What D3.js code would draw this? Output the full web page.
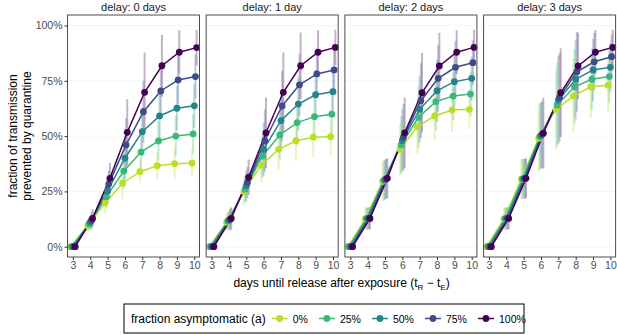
<!DOCTYPE html>
<html>
<head>
<meta charset="utf-8">
<script src="https://cdn.jsdelivr.net/npm/d3@7"></script>
<style>
  body { margin: 0; background: #fff; }
  text { font-family: "Liberation Sans", Arial, sans-serif; }
</style>
</head>
<body>
<div id="chart"></div>
<script>
// days until release after exposure
const days = [3, 4, 5, 6, 7, 8, 9, 10];
const asymLabels = ["0%", "25%", "50%", "75%", "100%"];
const asymColors = ["#BBDF27", "#38B977", "#25838E", "#3E4A89", "#440154"];
const delayLabels = ["delay: 0 days", "delay: 1 day", "delay: 2 days", "delay: 3 days"];
const yTicks = [0, 25, 50, 75, 100];

// mean fraction prevented (%), one row per asymptomatic level
const delay0Mean = [
  [0, 9.5, 19.9, 28.7, 33.9, 36.6, 37.5, 37.8],
  [0, 10.3, 22.6, 34.2, 42.8, 47.8, 50.0, 51.0],
  [0, 11.0, 25.2, 40.0, 52.0, 59.1, 62.6, 63.7],
  [0, 11.8, 28.3, 46.0, 61.0, 70.4, 75.4, 76.9],
  [0, 12.8, 30.9, 51.7, 69.8, 81.8, 87.9, 90.0]
];
const delay1Mean = [
  [0, 11.0, 24.9, 36.9, 44.0, 47.9, 49.5, 49.7],
  [0, 11.5, 26.0, 41.0, 50.5, 56.1, 58.8, 59.9],
  [0, 12.0, 27.5, 44.0, 57.0, 64.5, 68.7, 70.1],
  [0, 12.3, 29.0, 47.9, 63.6, 73.2, 78.1, 79.9],
  [0, 12.8, 31.4, 51.5, 69.8, 81.8, 87.9, 90.1]
];
const delay2Mean = [
  [0, 12.6, 29.5, 44.0, 54.2, 59.1, 61.8, 62.1],
  [0, 12.7, 30.0, 46.0, 58.5, 65.6, 68.1, 69.0],
  [0, 12.7, 30.3, 48.0, 62.1, 70.5, 74.6, 76.1],
  [0, 12.8, 30.6, 49.5, 66.0, 76.1, 81.1, 83.2],
  [0, 12.8, 30.9, 51.5, 69.6, 81.7, 87.9, 90.1]
];
const delay3Mean = [
  [0, 12.6, 30.5, 49.0, 62.1, 68.1, 72.3, 73.0],
  [0, 12.7, 30.6, 49.8, 64.1, 72.3, 75.7, 76.9],
  [0, 12.7, 30.7, 50.3, 66.3, 75.7, 79.9, 81.1],
  [0, 12.8, 30.8, 50.8, 67.5, 79.1, 83.6, 85.9],
  [0, 12.8, 30.9, 51.3, 69.6, 81.7, 87.9, 90.1]
];

// half width of the uncertainty bars (%), same layout
const delay0Err = [
  [1, 3, 5, 7, 5, 6, 7, 6],
  [1, 3, 5, 8, 9, 9, 9, 9],
  [1, 3, 6, 10, 11, 11, 10, 10],
  [1, 4, 6, 12, 14, 12, 11, 10],
  [1, 4, 7, 15, 18, 14, 10, 8]
];
const delay1Err = [
  [1, 4, 6, 8, 9, 9, 9, 8],
  [1, 4, 6, 10, 11, 10, 10, 9],
  [1, 4, 7, 12, 13, 12, 11, 10],
  [1, 5, 7, 14, 16, 14, 11, 10],
  [1, 5, 8, 16, 18, 15, 10, 8]
];
const delay2Err = [
  [1, 5, 9, 12, 12, 11, 10, 9],
  [1, 5, 9, 13, 14, 13, 11, 10],
  [1, 5, 9, 14, 15, 14, 12, 10],
  [1, 5, 9, 15, 17, 15, 12, 10],
  [1, 5, 9, 16, 18, 15, 10, 8]
];
const delay3Err = [
  [1, 5, 9, 15, 18, 17, 14, 12],
  [1, 5, 9, 15, 19, 17, 14, 12],
  [1, 5, 9, 15, 20, 18, 14, 11],
  [1, 5, 9, 15, 20, 18, 13, 10],
  [1, 5, 9, 16, 20, 15, 10, 8]
];

const panelMeans = [delay0Mean, delay1Mean, delay2Mean, delay3Mean];
const panelErrs = [delay0Err, delay1Err, delay2Err, delay3Err];
const dodge = [-0.135, -0.0675, 0, 0.0675, 0.135];

const width = 617, height = 335;
const panel = {left: 67.5, step: 138.7, width: 132, top: 15, bottom: 257};

const svg = d3.select('#chart')
  .append('svg')
  .attr('width', width)
  .attr('height', height);

const y = d3.scaleLinear()
  .domain([0, 100])
  .range([246.7, 25.5]);

panelMeans.forEach((means, p) => {
  const x0 = panel.left + p * panel.step;
  const x = d3.scaleLinear()
    .domain([2.69, 10.3])
    .range([x0, x0 + panel.width]);

  const g = svg.append('g').attr('class', 'panel');

  // grid
  g.selectAll('.grid')
    .data(yTicks)
    .enter()
    .append('line')
    .attr('x1', x0).attr('x2', x0 + panel.width)
    .attr('y1', d => y(d)).attr('y2', d => y(d))
    .attr('stroke', '#ececec')
    .attr('stroke-width', 0.6);

  // strip title
  svg.append('text')
    .attr('x', x0 + panel.width / 2)
    .attr('y', 10.5)
    .attr('text-anchor', 'middle')
    .attr('font-size', 11)
    .attr('fill', '#1a1a1a')
    .text(delayLabels[p]);

  const errs = panelErrs[p];

  // uncertainty bars
  means.forEach((row, s) => {
    g.selectAll(null)
      .data(row.map((v, i) => ({day: days[i], v: v, e: errs[s][i]})))
      .enter()
      .append('rect')
      .attr('x', d => x(d.day + dodge[s]) - 1)
      .attr('width', 2)
      .attr('y', d => y(Math.min(100, d.v + d.e)))
      .attr('height', d => y(Math.max(0, d.v - d.e)) - y(Math.min(100, d.v + d.e)))
      .attr('fill', asymColors[s])
      .attr('opacity', 0.3);
  });

  const line = d3.line()
    .x(d => x(d.day + d.off))
    .y(d => y(d.v));

  means.forEach((row, s) => {
    const pts = row.map((v, i) => ({day: days[i], v: v, off: dodge[s]}));
    g.append('path')
      .datum(pts)
      .attr('d', line)
      .attr('fill', 'none')
      .attr('stroke', asymColors[s])
      .attr('stroke-width', 1.5);
  });

  means.forEach((row, s) => {
    g.selectAll(null)
      .data(row.map((v, i) => ({day: days[i], v: v})))
      .enter()
      .append('circle')
      .attr('cx', d => x(d.day + dodge[s]))
      .attr('cy', d => y(d.v))
      .attr('r', 3.4)
      .attr('fill', asymColors[s]);
  });

  // border
  g.append('rect')
    .attr('x', x0).attr('y', panel.top)
    .attr('width', panel.width).attr('height', panel.bottom - panel.top)
    .attr('fill', 'none')
    .attr('stroke', '#4d4d4d')
    .attr('stroke-width', 1);

  // x axis
  const xAxis = svg.append('g')
    .attr('transform', `translate(0,${panel.bottom})`)
    .call(d3.axisBottom(x).tickValues(days).tickSize(3).tickPadding(2));
  xAxis.select('.domain').remove();
  xAxis.selectAll('line').attr('stroke', '#333');
  xAxis.selectAll('text')
    .attr('font-size', 10.5)
    .attr('font-family', '"Liberation Sans", Arial, sans-serif')
    .attr('fill', '#4d4d4d');

  if (p === 0) {
    const yAxis = svg.append('g')
      .attr('transform', `translate(${x0},0)`)
      .call(d3.axisLeft(y).tickValues(yTicks).tickSize(3).tickPadding(2).tickFormat(d => d + '%'));
    yAxis.select('.domain').remove();
    yAxis.selectAll('line').attr('stroke', '#333');
    yAxis.selectAll('text')
      .attr('font-size', 10.5)
      .attr('font-family', '"Liberation Sans", Arial, sans-serif')
      .attr('fill', '#4d4d4d');
  }
});

// y title
const yTitle = svg.append('text')
  .attr('transform', `translate(17,${(panel.top + panel.bottom) / 2}) rotate(-90)`)
  .attr('text-anchor', 'middle')
  .attr('font-size', 12)
  .attr('fill', '#000');
yTitle.append('tspan').attr('x', 0).attr('dy', 0).text('fraction of transmission');
yTitle.append('tspan').attr('x', 0).attr('dy', 14).text('prevented by quarantine');

// x title
const xTitle = svg.append('text')
  .attr('x', (panel.left + 3 * panel.step + panel.width + panel.left) / 2)
  .attr('y', 287)
  .attr('text-anchor', 'middle')
  .attr('font-size', 12)
  .attr('fill', '#000');
xTitle.append('tspan').text('days until release after exposure (t');
xTitle.append('tspan').attr('font-size', 8).attr('dy', 3).text('R');
xTitle.append('tspan').attr('dy', -3).text(' \u2212 t');
xTitle.append('tspan').attr('font-size', 8).attr('dy', 3).text('E');
xTitle.append('tspan').attr('dy', -3).text(')');

// legend
const legend = svg.append('g').attr('class', 'legend');
legend.append('rect')
  .attr('x', 124).attr('y', 304)
  .attr('width', 400).attr('height', 29)
  .attr('fill', '#fff')
  .attr('stroke', '#000')
  .attr('stroke-width', 1);
const legTitle = legend.append('text')
  .attr('x', 131).attr('y', 323)
  .attr('font-size', 12)
  .attr('fill', '#000')
  .text('fraction asymptomatic (a)');

let cursor = 131 + legTitle.node().getComputedTextLength() + 14;
asymLabels.forEach((lab, s) => {
  legend.append('line')
    .attr('x1', cursor - 8).attr('x2', cursor + 8)
    .attr('y1', 318.5).attr('y2', 318.5)
    .attr('stroke', asymColors[s])
    .attr('stroke-width', 1.5);
  legend.append('circle')
    .attr('cx', cursor).attr('cy', 318.5)
    .attr('r', 3.4)
    .attr('fill', asymColors[s]);
  const t = legend.append('text')
    .attr('x', cursor + 13).attr('y', 322.5)
    .attr('font-size', 10.5)
    .attr('fill', '#000')
    .text(lab);
  cursor = cursor + 13 + t.node().getComputedTextLength() + 19;
});
</script>
</body>
</html>
